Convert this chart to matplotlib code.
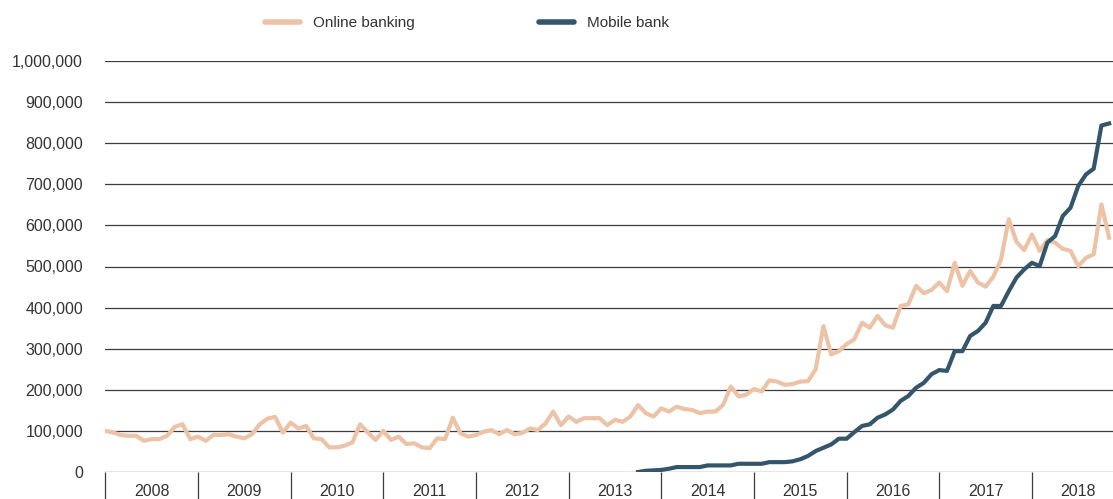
import numpy as np
import matplotlib
matplotlib.use('Agg')
import matplotlib.pyplot as plt
from matplotlib.lines import Line2D
from matplotlib.ticker import FuncFormatter

# monthly values (thousands), Jan 2008 .. Nov 2018
years = [str(y) for y in range(2008, 2019)]
online = [100, 96, 90, 88, 88, 76, 80, 80, 88, 110, 116, 80,
          86, 76, 90, 90, 92, 86, 82, 92, 116, 130, 134, 96,
          120, 106, 112, 82, 80, 60, 60, 64, 72, 116, 96, 78,
          100, 78, 86, 68, 70, 60, 58, 82, 80, 132, 94, 86,
          90, 98, 102, 92, 102, 92, 95, 106, 102, 118, 147, 114,
          135, 122, 131, 131, 131, 114, 127, 122, 135, 163, 143, 135,
          155, 147, 159, 153, 151, 143, 147, 147, 163, 208, 184, 188,
          202, 196, 223, 220, 212, 214, 220, 221, 250, 355, 286, 294,
          311, 323, 363, 351, 380, 357, 351, 404, 408, 453, 435, 443,
          461, 440, 509, 453, 489, 461, 451, 475, 517, 615, 560, 540,
          578, 538, 564, 558, 543, 538, 501, 521, 530, 651, 570]
# mobile bank starts Oct 2013
mobile = [0, 3, 4, 5, 8, 12, 12, 12, 12,
          16, 16, 16, 16, 20, 20, 20, 20, 24, 24, 24,
          26, 31, 39, 51, 59, 67, 81, 81, 97, 112, 116, 132,
          140, 152, 173, 185, 205, 217, 238, 248, 246, 294, 294, 331,
          343, 363, 404, 404, 440, 473, 493, 509, 501, 558, 574, 623,
          643, 696, 724, 738, 843, 848]

online = np.array(online) * 1000
mobile = np.array(mobile) * 1000
x_online = np.arange(len(online))
x_mobile = np.arange(len(online) - len(mobile), len(online))

c_online = '#ECC3A6'
c_mobile = '#34566A'
txt = '#333333'

plt.rcParams['font.family'] = ['Liberation Sans', 'DejaVu Sans']

fig = plt.figure(figsize=(11.13, 4.99), dpi=100)
ax = fig.add_axes([105.3 / 1113, 1 - 472 / 499, 1 - 105.3 / 1113, (472 - 61) / 499])

ax.plot(x_online, online, color=c_online, lw=3, solid_joinstyle='round', zorder=3)
ax.plot(x_mobile, mobile, color=c_mobile, lw=3, solid_joinstyle='round', zorder=4)

ax.set_xlim(0, 130.5)
ax.set_ylim(0, 1000000)
ax.set_yticks(np.arange(0, 1000001, 100000))
ax.yaxis.set_major_formatter(FuncFormatter(lambda v, p: '{:,.0f}'.format(v)))
ax.grid(axis='y', color='#3c3c3c', lw=0.9)
ax.set_axisbelow(True)
for s in ax.spines.values():
    s.set_visible(False)

# years: labels in the middle, separators at the boundaries
ax.set_xticks(np.arange(6, 132, 12))
ax.set_xticklabels(years)
ax.set_xticks(np.arange(0, 132, 12), minor=True)
ax.tick_params(axis='x', which='major', length=0, pad=8.5, labelsize=11.5, labelcolor=txt)
ax.tick_params(axis='x', which='minor', length=30, width=0.9, color='#3c3c3c', direction='out')
ax.tick_params(axis='y', length=0, pad=16, labelsize=11.5, labelcolor=txt)

handles = [Line2D([], [], color=c_online, lw=4, solid_capstyle='round'),
           Line2D([], [], color=c_mobile, lw=4, solid_capstyle='round')]
fig.legend(handles, ['Online banking', 'Mobile bank'], loc='center left',
           bbox_to_anchor=(265 / 1113, 1 - 23 / 499), ncol=2, frameon=False,
           borderpad=0, borderaxespad=0, handlelength=2.3, handletextpad=0.85,
           columnspacing=8.1, fontsize=11, labelcolor=txt)

fig.savefig('out.png', dpi=100)
